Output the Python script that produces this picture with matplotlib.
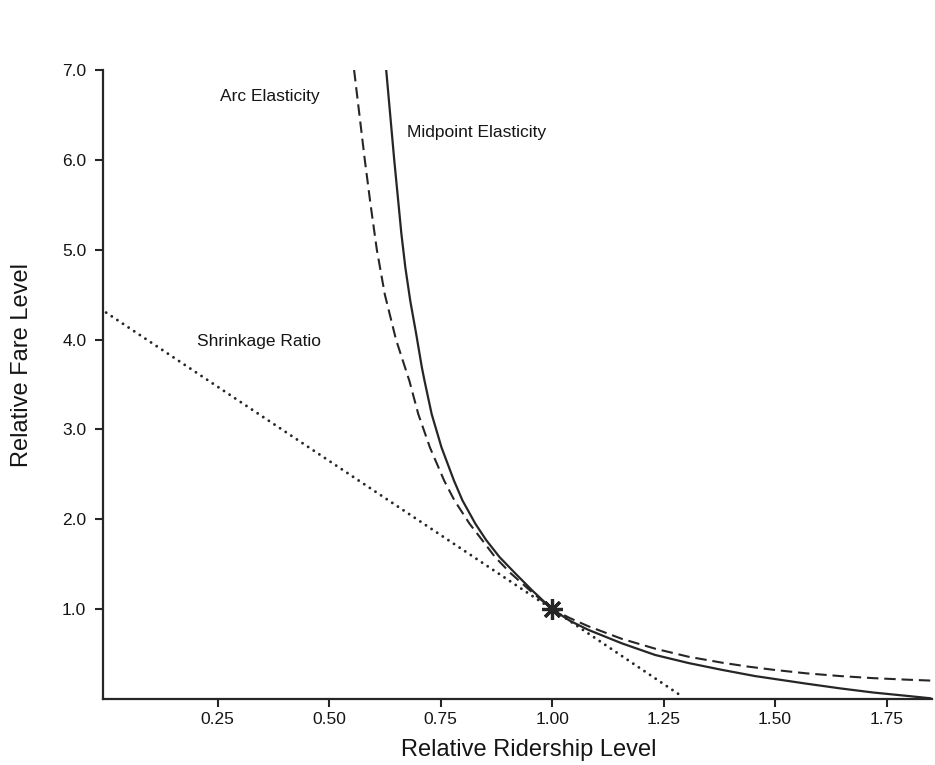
import matplotlib.pyplot as plt

plt.rcParams['font.family'] = ['Liberation Sans', 'DejaVu Sans']

# Arc elasticity (dashed)
arc_q = [0.556, 0.568, 0.580, 0.593, 0.607, 0.625, 0.650, 0.680, 0.700,
         0.726, 0.758, 0.781, 0.815, 0.843, 0.872, 0.907, 0.950, 1.000, 1.040,
         1.081, 1.156, 1.231, 1.306, 1.380, 1.440, 1.496, 1.571, 1.646, 1.720,
         1.795, 1.848]
arc_p = [7.00, 6.50, 6.00, 5.50, 5.00, 4.50, 4.00, 3.54, 3.17,
         2.80, 2.43, 2.21, 1.95, 1.77, 1.58, 1.40, 1.21, 1.00, 0.90,
         0.81, 0.67, 0.56, 0.47, 0.405, 0.36, 0.325, 0.285, 0.255, 0.232,
         0.215, 0.205]

# Midpoint elasticity (solid)
mid_q = [0.628, 0.637, 0.646, 0.655, 0.662, 0.671, 0.682, 0.695, 0.708, 0.714,
         0.730, 0.752, 0.780, 0.799, 0.828, 0.852, 0.882, 0.917, 0.955, 1.000,
         1.040, 1.081, 1.156, 1.231, 1.306, 1.380, 1.455, 1.496, 1.571, 1.646,
         1.720, 1.795, 1.848]
mid_p = [7.00, 6.50, 6.00, 5.54, 5.18, 4.80, 4.43, 4.07, 3.69, 3.54,
         3.17, 2.80, 2.43, 2.21, 1.95, 1.77, 1.58, 1.40, 1.21, 1.00,
         0.87, 0.77, 0.62, 0.49, 0.40, 0.325, 0.255, 0.225, 0.17, 0.118,
         0.072, 0.035, 0.008]

# Shrinkage ratio (dotted straight line)
shr_q = [0.0, 1.0, 1.285]
shr_p = [4.30, 1.00, 0.05]

x_ticks = [0.25, 0.50, 0.75, 1.00, 1.25, 1.50, 1.75]
y_ticks = [1.0, 2.0, 3.0, 4.0, 5.0, 6.0, 7.0]

line_col = '#262626'
text_col = '#151515'

fig = plt.figure(figsize=(9.35, 7.65), dpi=100)
ax = fig.add_axes([0.1102, 0.0863, 0.8866, 0.8222])

ax.plot(shr_q, shr_p, color=line_col, lw=2.1, linestyle=(0, (0.01, 2.3)),
        dash_capstyle='round')
ax.plot(arc_q, arc_p, color=line_col, lw=1.5, linestyle=(0, (5.5, 2.8)))
ax.plot(mid_q, mid_p, color=line_col, lw=1.6)
ax.plot([1.0], [1.0], marker=(8, 2, 0), markersize=15, mew=2.3, color=line_col)

ax.text(0.256, 6.70, 'Arc Elasticity', fontsize=12.5, color=text_col, va='center')
ax.text(0.675, 6.30, 'Midpoint Elasticity', fontsize=12.5, color=text_col, va='center')
ax.text(0.204, 3.98, 'Shrinkage Ratio', fontsize=12.5, color=text_col, va='center')

ax.set_xlim(-0.007, 1.852)
ax.set_ylim(0, 7.0)
ax.set_xticks(x_ticks)
ax.set_xticklabels([f'{v:.2f}' for v in x_ticks])
ax.set_yticks(y_ticks)
ax.set_yticklabels([f'{v:.1f}' for v in y_ticks])

for s in ['top', 'right']:
    ax.spines[s].set_visible(False)
for s in ['left', 'bottom']:
    ax.spines[s].set_linewidth(1.6)
    ax.spines[s].set_color(line_col)

ax.tick_params(axis='both', direction='out', length=6, width=1.5,
               colors=line_col, labelcolor=text_col, labelsize=12.5)
ax.tick_params(axis='y', pad=6)
ax.tick_params(axis='x', pad=3.5)

ax.set_xlabel('Relative Ridership Level', fontsize=17, color=text_col, va='center')
ax.set_ylabel('Relative Fare Level', fontsize=17, color=text_col, va='center', ha='center')
ax.xaxis.set_label_coords(0.513, -0.081)
ax.yaxis.set_label_coords(-0.098, 0.531)

fig.savefig('out.png', dpi=100)
